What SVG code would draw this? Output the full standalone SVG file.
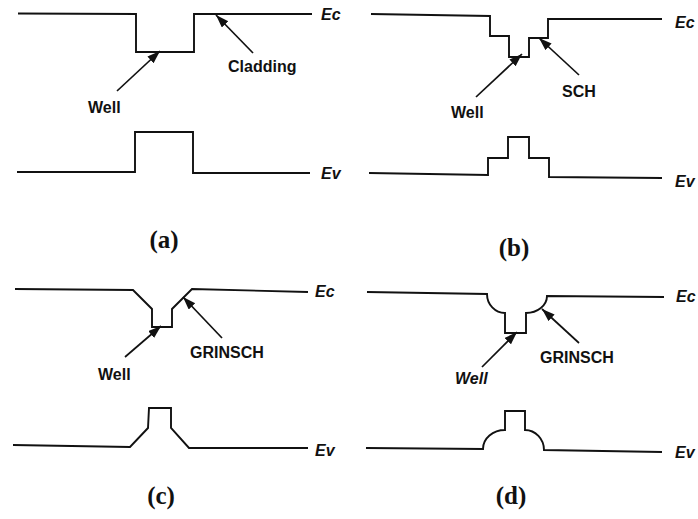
<svg xmlns="http://www.w3.org/2000/svg" width="698" height="519" viewBox="0 0 698 519">
<defs>
<style>
.band{fill:none;stroke:#111;stroke-width:1.9;stroke-linejoin:miter}
.arr{fill:none;stroke:#111;stroke-width:1.7}
.lbl{font-family:"Liberation Sans",Arial,sans-serif;font-weight:bold;font-size:16px;fill:#111}
.lvl{font-family:"Liberation Sans",Arial,sans-serif;font-weight:bold;font-style:italic;font-size:16px;fill:#111}
.cap{font-family:"Liberation Serif","Times New Roman",serif;font-weight:bold;font-size:25px;fill:#111;text-anchor:middle}
</style>
<marker id="ah" markerUnits="userSpaceOnUse" markerWidth="14" markerHeight="10" refX="13" refY="4.5" orient="auto">
<path d="M0,0 L13,4.5 L0,9 z" fill="#111"/>
</marker>
</defs>
<rect width="698" height="519" fill="#fff"/>

<g id="panel-a">
<path class="band" d="M18,13.5 L136,14 L136,52 L194,52 L194,14 L312,14"/>
<path class="band" d="M17,172 L135,172 L135,132 L193,132 L193,173 L310,173"/>
<text class="lvl" x="321" y="20">Ec</text>
<text class="lvl" x="321" y="179">Ev</text>
<text class="lbl" x="88" y="113">Well</text>
<text class="lbl" x="228" y="72">Cladding</text>
<text class="cap" x="164" y="248">(a)</text>
</g>

<g id="panel-b">
<path class="band" d="M371,14 L490,16 L490,36 L509,36 L509,57 L529,57 L529,38 L548,38 L548,19 L662,19"/>
<path class="band" d="M369,173 L488,175 L488,158 L508,158 L508,137 L529,137 L529,158 L549,158 L549,177 L662,178"/>
<text class="lvl" x="675" y="28">Ec</text>
<text class="lvl" x="675" y="187">Ev</text>
<text class="lbl" x="451" y="118">Well</text>
<text class="lbl" x="562" y="97">SCH</text>
<text class="cap" x="514" y="256">(b)</text>
</g>

<g id="panel-c">
<path class="band" d="M15,289 L133,290 L152,309 L152,327 L172,327 L172,309 L192,289 L308,292"/>
<path class="band" d="M13,445 L130,447 L148,428 L149,408 L171,408 L171,428 L189,448 L308,448"/>
<text class="lvl" x="315" y="297">Ec</text>
<text class="lvl" x="315" y="456">Ev</text>
<text class="lbl" x="98" y="380">Well</text>
<text class="lbl" x="190" y="358">GRINSCH</text>
<text class="cap" x="161" y="504">(c)</text>
</g>

<g id="panel-d">
<path class="band" d="M367,292 L487,294 A18,19 0 0 0 505,313 L505,333 L526,333 L526,313 A21,17 0 0 0 547,296 L664,297"/>
<path class="band" d="M366,448 L483,449 A22,19 0 0 1 505,430 L505,411 L525,411 L525,430 A19,20 0 0 1 544,450 L662,452"/>
<text class="lvl" x="676" y="302">Ec</text>
<text class="lvl" x="675" y="458">Ev</text>
<text class="lbl" x="455" y="384" font-style="italic">Well</text>
<text class="lbl" x="540" y="363">GRINSCH</text>
<text class="cap" x="511" y="504">(d)</text>
</g>

<g id="connectors">
<line class="arr" x1="117" y1="91" x2="160" y2="51" marker-end="url(#ah)"/>
<line class="arr" x1="253" y1="53" x2="216" y2="15" marker-end="url(#ah)"/>
<line class="arr" x1="476" y1="97" x2="522" y2="54" marker-end="url(#ah)"/>
<line class="arr" x1="579" y1="75" x2="539" y2="38" marker-end="url(#ah)"/>
<line class="arr" x1="125" y1="357" x2="161" y2="326" marker-end="url(#ah)"/>
<line class="arr" x1="222" y1="338" x2="183" y2="297" marker-end="url(#ah)"/>
<line class="arr" x1="482" y1="367" x2="517" y2="332" marker-end="url(#ah)"/>
<line class="arr" x1="579" y1="343" x2="542" y2="309" marker-end="url(#ah)"/>
</g>
</svg>
